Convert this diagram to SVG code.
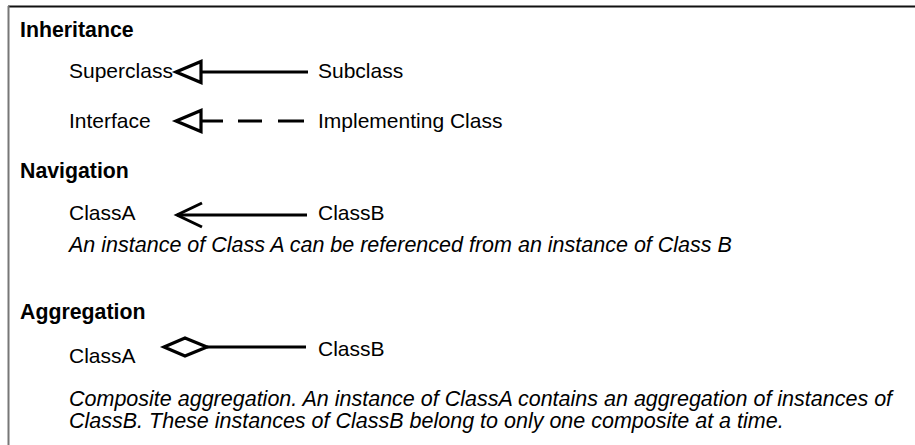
<svg xmlns="http://www.w3.org/2000/svg" width="915" height="445" viewBox="0 0 915 445">
<style>
text{font-family:"Liberation Sans",Arial,sans-serif;fill:#000;}
.h{font-size:21.3px;font-weight:bold;}
.t{font-size:21px;}
.i{font-size:21.5px;font-style:italic;}
.ln{stroke:#000;stroke-width:3;fill:none;}
.hd{stroke:#000;stroke-width:3.2;fill:#fff;stroke-linejoin:miter;}
</style>
<rect width="915" height="445" fill="#fff"/>
<g id="frame">
<line x1="8" y1="6.5" x2="915" y2="6.5" stroke="#111" stroke-width="2"/>
<line x1="8.5" y1="6" x2="8.5" y2="445" stroke="#777" stroke-width="2"/>
</g>
<g id="inheritance">
<text class="h" x="20" y="37">Inheritance</text>
<g id="superclass"><text class="t" x="69" y="78">Superclass</text></g>
<g id="subclass"><text class="t" x="318" y="78">Subclass</text></g>
<g id="interface"><text class="t" x="69" y="128">Interface</text></g>
<g id="implementing"><text class="t" x="318" y="128">Implementing Class</text></g>
</g>
<g id="navigation">
<text class="h" x="20" y="178">Navigation</text>
<g id="nav-classa"><text class="t" x="69" y="220">ClassA</text></g>
<g id="nav-classb"><text class="t" x="318" y="220">ClassB</text></g>
<text class="i" x="69" y="252">An instance of Class A can be referenced from an instance of Class B</text>
</g>
<g id="aggregation">
<text class="h" x="20" y="319">Aggregation</text>
<g id="agg-classa"><text class="t" x="69" y="363">ClassA</text></g>
<g id="agg-classb"><text class="t" x="318" y="356">ClassB</text></g>
<text class="i" x="69" y="406">Composite aggregation. An instance of ClassA contains an aggregation of instances of</text>
<text class="i" x="69" y="428">ClassB. These instances of ClassB belong to only one composite at a time.</text>
</g>
<g id="connectors">
<line class="ln" x1="201" y1="72" x2="308" y2="72"/>
<polygon class="hd" points="176,72 201,61.5 201,82.5"/>
<path class="ln" d="M201 121H223M238 121H262M278 121H304"/>
<polygon class="hd" points="176,121 201,110.5 201,131.5"/>
<line class="ln" x1="177" y1="215" x2="307" y2="215"/>
<path class="ln" d="M202 203L177 215L202 227"/>
<line class="ln" x1="207" y1="347" x2="306" y2="347"/>
<polygon class="hd" points="164,347 185,338 207,347 185,356"/>
</g>
</svg>
